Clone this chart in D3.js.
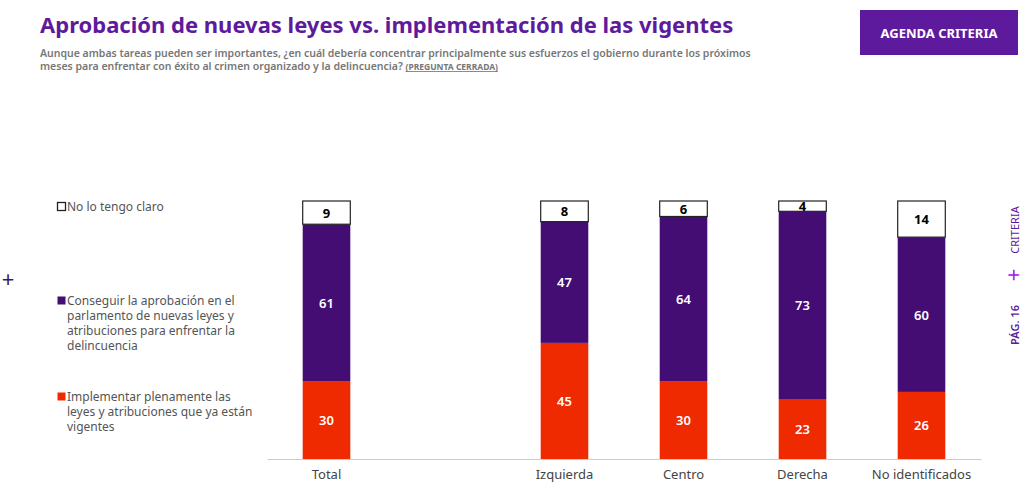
<!DOCTYPE html><html><head><meta charset="utf-8"><script src="https://cdn.jsdelivr.net/npm/d3@7"></script>
<style>body{margin:0;background:#fff;font-family:Montserrat,"Noto Sans",sans-serif}</style></head><body><svg width="1028" height="498"></svg>
<script>
const categories=["Total","","Izquierda","Centro","Derecha","No identificados"];
const implementar=[30,null,45,30,23,26];
const conseguir=[61,null,47,64,73,60];
const noClaro=[9,null,8,6,4,14];
const svg=d3.select("svg");
const F='"Noto Sans",sans-serif';
svg.append("text").attr("x",40).attr("y",33).attr("font-family",F).attr("font-size",22).attr("font-weight",700).attr("fill","#5e1a9c").text("Aprobación de nuevas leyes vs. implementación de las vigentes");
const st=svg.append("text").attr("font-family",F).attr("font-size",10.5).attr("fill","#777").attr("font-weight",600);
st.append("tspan").attr("x",40).attr("y",57).text("Aunque ambas tareas pueden ser importantes, ¿en cuál debería concentrar principalmente sus esfuerzos el gobierno durante los próximos");
const t2=st.append("tspan").attr("x",40).attr("y",70).text("meses para enfrentar con éxito al crimen organizado y la delincuencia? ");
t2.append("tspan").attr("font-size",8.5).attr("font-weight",700).attr("text-decoration","underline").text("(PREGUNTA CERRADA)");
svg.append("rect").attr("x",860).attr("y",10).attr("width",158).attr("height",45).attr("fill","#5e1a9c");
svg.append("text").attr("x",939).attr("y",38).attr("text-anchor","middle").attr("font-family",F).attr("font-size",13).attr("font-weight",700).attr("fill","#fff").text("AGENDA CRITERIA");
const x=d3.scaleBand().domain(categories).range([267,981]).paddingInner(0.6).paddingOuter(0.3);
const y=d3.scaleLinear().domain([0,100]).range([459,201]);
const series=[{v:implementar,c:"#f02a00",t:"#fff"},{v:conseguir,c:"#440d73",t:"#fff"},{v:noClaro,c:"#fff",t:"#000"}];
categories.forEach((cat,i)=>{ if(!cat)return; let base=0;
 series.forEach((s,k)=>{const v=s.v[i];
  svg.append("rect").attr("x",x(cat)).attr("width",x.bandwidth()).attr("y",y(base+v)).attr("height",y(base)-y(base+v)).attr("fill",s.c).attr("stroke",k==2?"#222":"none").attr("stroke-width",1.2);
  svg.append("text").attr("x",x(cat)+x.bandwidth()/2).attr("y",y(base+v/2)+5).attr("text-anchor","middle").attr("font-family",F).attr("font-size",13).attr("font-weight",k==2?700:600).attr("fill",s.t).text(v);
  base+=v;});});
const ax=svg.append("g").attr("transform","translate(0,459)").call(d3.axisBottom(x).tickSize(0).tickPadding(11).tickFormat(d=>d));
ax.select(".domain").attr("stroke","#ccc");
ax.selectAll("text").attr("font-family",F).attr("font-size",13).attr("fill","#444");
const leg=[{y:207,c:"#fff",lines:["No lo tengo claro"]},{y:301,c:"#440d73",lines:["Conseguir la aprobación en el","parlamento de nuevas leyes y","atribuciones para enfrentar la","delincuencia"]},{y:397,c:"#f02a00",lines:["Implementar plenamente las","leyes y atribuciones que ya están","vigentes"]}];
leg.forEach(l=>{svg.append("rect").attr("x",57.5).attr("y",l.y-4.5).attr("width",8).attr("height",8).attr("fill",l.c).attr("stroke",l.c=="#fff"?"#222":"none").attr("stroke-width",1.3);
 const t=svg.append("text").attr("font-family",F).attr("font-size",12).attr("fill","#555");
 l.lines.forEach((s,j)=>t.append("tspan").attr("x",67).attr("y",l.y+4+j*15).text(s));});
svg.append("text").attr("x",8).attr("y",287).attr("text-anchor","middle").attr("font-family",F).attr("font-size",22).attr("fill","#3a1a5e").text("+");
const side=svg.append("g").attr("transform","translate(1019,275) rotate(-90)");
side.append("text").attr("x",-50).attr("y",0).attr("text-anchor","middle").attr("font-family",F).attr("font-size",11).attr("font-weight",600).attr("fill","#5e1a9c").text("PÁG. 16");
side.append("text").attr("x",0).attr("y",-4).attr("text-anchor","middle").attr("dominant-baseline","middle").attr("font-family",F).attr("font-size",22).attr("fill","#a020f0").text("+");
side.append("text").attr("x",45).attr("y",0).attr("text-anchor","middle").attr("font-family",F).attr("font-size",11).attr("fill","#5e1a9c").text("CRITERIA");
</script></body></html>
